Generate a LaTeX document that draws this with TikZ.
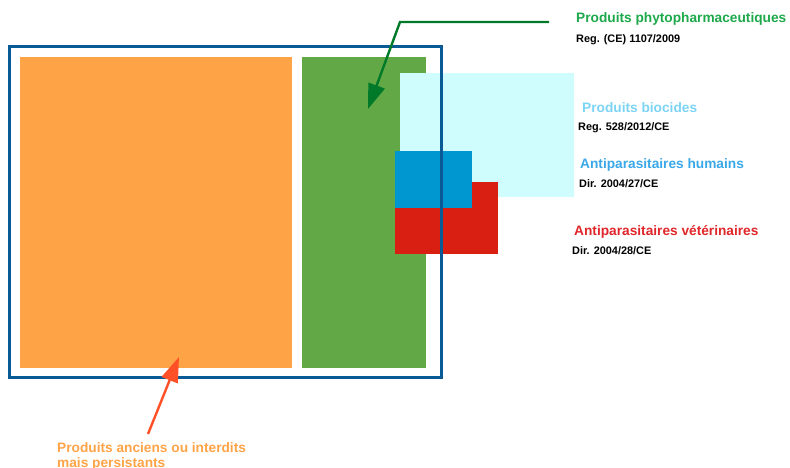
\documentclass[tikz,border=0pt]{standalone}
\usepackage{fontspec}
\setmainfont{Liberation Sans}
\usetikzlibrary{arrows.meta}
\definecolor{oldorange}{RGB}{255,163,71}
\definecolor{phytogreen}{RGB}{98,168,70}
\definecolor{biocyan}{RGB}{207,253,253}
\definecolor{humblue}{RGB}{0,151,208}
\definecolor{vetred}{RGB}{217,31,17}
\definecolor{framblue}{RGB}{10,90,150}
\definecolor{arrgreen}{RGB}{0,122,40}
\definecolor{txtgreen}{RGB}{29,168,74}
\definecolor{txtcyan}{RGB}{124,212,244}
\definecolor{txtblue}{RGB}{58,168,232}
\definecolor{txtred}{RGB}{224,38,42}
\definecolor{arrorange}{RGB}{255,80,40}
\tikzset{
  title/.style={anchor=base west, inner sep=0pt, font=\bfseries\fontsize{13.7}{15}\selectfont},
  reftext/.style={anchor=base west, inner sep=0pt, text=black, font=\bfseries\fontsize{10.9}{12}\selectfont},
  pointer/.style={line width=2.4pt, -{Triangle[length=25pt,width=17pt]}},
}
\begin{document}
\begin{tikzpicture}[x=1pt,y=-1pt]
\useasboundingbox (0,0) rectangle (790,468);
% product areas
\fill[oldorange] (20,57) rectangle (292,367.5);
\fill[phytogreen] (302,57) rectangle (425.5,367.5);
\fill[biocyan] (399.5,73) rectangle (573.5,196.5);
\fill[vetred] (394.5,181.5) rectangle (497.5,254);
\fill[humblue] (394.5,151) rectangle (471.5,207.5);
% outer frame
\draw[framblue, line width=2.7pt] (9.5,46.5) rectangle (441.5,377.5);
% labels
\node[title, text=txtgreen] (phyto) at (576,23) {Produits phytopharmaceutiques};
\node[reftext] (phytoref) at (576,43) {Reg. (CE) 1107/2009};
\node[title, text=txtcyan] (bio) at (582,113) {Produits biocides};
\node[reftext] (bioref) at (578,131) {Reg. 528/2012/CE};
\node[title, text=txtblue] (hum) at (580,168) {Antiparasitaires humains};
\node[reftext] (humref) at (579,187) {Dir. 2004/27/CE};
\node[title, text=txtred] (vet) at (574,235) {Antiparasitaires vétérinaires};
\node[reftext] (vetref) at (572,254) {Dir. 2004/28/CE};
\node[title, text=oldorange] (old) at (57,452) {Produits anciens ou interdits};
\node[title, text=oldorange] (old2) at (57,467) {mais persistants};
% pointers
\coordinate (gstart) at (549,22);
\coordinate (gbend) at (400,22);
\coordinate (gtip) at (368,109);
\coordinate (ostart) at (148,434);
\coordinate (otip) at (179,357);
\draw[pointer, arrgreen] (gstart) -- (gbend) -- (gtip);
\draw[pointer, arrorange] (ostart) -- (otip);
\end{tikzpicture}
\end{document}
